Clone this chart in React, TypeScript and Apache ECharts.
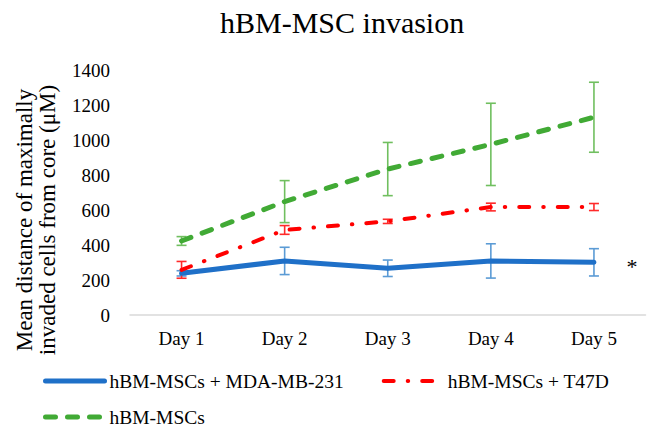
import React, { useEffect, useRef } from "react";
import * as echarts from "echarts";

const categories = ["Day 1", "Day 2", "Day 3", "Day 4", "Day 5"];
const seriesNames = ["hBM-MSCs + MDA-MB-231", "hBM-MSCs + T47D", "hBM-MSCs"];
const mdaMean = [238, 309, 267, 309, 301];
const mdaErr = [15, 78, 47, 98, 78];
const t47dMean = [258, 486, 535, 617, 617];
const t47dErr = [48, 25, 12, 22, 20];
const mscMean = [423, 648, 834, 975, 1130];
const mscErr = [25, 120, 152, 235, 200];
const yTicks = { min: 0, max: 1400, interval: 200 };

const FONT = "'Liberation Serif', serif";

function errorData(mean: number[], err: number[]) {
  return mean.map((m, i) => [i, m - err[i], m + err[i]]);
}

function errorSeries(mean: number[], err: number[], color: string) {
  return {
    type: "custom",
    silent: true,
    z: 1,
    renderItem: (params: any, api: any) => {
      const x = api.value(0);
      const lo = api.coord([x, api.value(1)]);
      const hi = api.coord([x, api.value(2)]);
      const cx = lo[0];
      const half = 5;
      const style = { stroke: color, lineWidth: 1.6 };
      return {
        type: "group",
        children: [
          { type: "line", shape: { x1: cx, y1: hi[1], x2: cx, y2: lo[1] }, style },
          { type: "line", shape: { x1: cx - half, y1: hi[1], x2: cx + half, y2: hi[1] }, style },
          { type: "line", shape: { x1: cx - half, y1: lo[1], x2: cx + half, y2: lo[1] }, style },
        ],
      };
    },
    encode: { x: 0, y: [1, 2] },
    data: errorData(mean, err),
  };
}

export default function App() {
  const ref = useRef<HTMLDivElement>(null);
  useEffect(() => {
    if (!ref.current) return;
    const chart = echarts.init(ref.current, null, { renderer: "svg" });
    const blue = "#1f70c8";
    const red = "#ff0000";
    const green = "#41aa35";
    const blueStyle = { color: blue, width: 5, cap: "round" };
    const redStyle = { color: red, width: 4, type: [10, 14, 0.5, 14], cap: "round" };
    const greenStyle = { color: green, width: 5, type: [10, 12], cap: "round" };
    const legendCommon = {
      left: 38,
      itemWidth: 59,
      itemHeight: 10,
      itemStyle: { color: "transparent", borderWidth: 0, opacity: 0 },
      textStyle: { fontFamily: FONT, fontSize: 19.5, color: "#000" },
    };
    chart.setOption({
      animation: false,
      backgroundColor: "#ffffff",
      textStyle: { fontFamily: FONT, color: "#000" },
      title: {
        text: "hBM-MSC invasion",
        left: 215,
        top: 2,
        textStyle: { fontFamily: FONT, fontSize: 30, fontWeight: "normal", color: "#000" },
      },
      grid: { left: 130, right: 5.5, top: 70, bottom: 113, containLabel: false },
      xAxis: {
        type: "category",
        data: categories,
        axisLine: { lineStyle: { color: "#d9d9d9", width: 1.5 } },
        axisTick: { show: false },
        axisLabel: { fontFamily: FONT, fontSize: 19, color: "#000", margin: 14 },
      },
      yAxis: {
        type: "value",
        min: yTicks.min,
        max: yTicks.max,
        interval: yTicks.interval,
        axisLine: { show: false },
        axisTick: { show: false },
        splitLine: { show: false },
        axisLabel: {
          fontFamily: FONT,
          fontSize: 19,
          color: "#000",
          margin: 20,
          formatter: (v: number) => String(v),
        },
      },
      legend: [
        {
          ...legendCommon,
          top: 366,
          itemGap: 38,
          data: [
            { name: seriesNames[0], lineStyle: blueStyle },
            { name: seriesNames[1], lineStyle: redStyle },
          ],
        },
        {
          ...legendCommon,
          top: 402,
          data: [{ name: seriesNames[2], lineStyle: greenStyle }],
        },
      ],
      graphic: [
        {
          type: "text",
          x: 24,
          y: 220,
          rotation: Math.PI / 2,
          style: {
            text: "Mean distance of maximally",
            fontFamily: FONT,
            fontSize: 23,
            fill: "#000",
            align: "center",
            verticalAlign: "middle",
          },
        },
        {
          type: "text",
          x: 47,
          y: 220,
          rotation: Math.PI / 2,
          style: {
            text: "invaded cells from core (μM)",
            fontFamily: FONT,
            fontSize: 23,
            fill: "#000",
            align: "center",
            verticalAlign: "middle",
          },
        },
        {
          type: "text",
          x: 632,
          y: 266,
          style: {
            text: "*",
            fontFamily: FONT,
            fontSize: 22,
            fill: "#000",
            align: "center",
            verticalAlign: "middle",
          },
        },
      ],
      series: [
        errorSeries(mdaMean, mdaErr, "#5b9bd5"),
        errorSeries(t47dMean, t47dErr, "#ff2a2a"),
        errorSeries(mscMean, mscErr, "#70bf5f"),
        {
          name: seriesNames[0],
          type: "line",
          data: mdaMean,
          symbol: "none",
          z: 3,
          color: blue,
          lineStyle: blueStyle,
        },
        {
          name: seriesNames[1],
          type: "line",
          data: t47dMean,
          symbol: "none",
          z: 3,
          color: red,
          lineStyle: redStyle,
        },
        {
          name: seriesNames[2],
          type: "line",
          data: mscMean,
          symbol: "none",
          z: 3,
          color: green,
          lineStyle: greenStyle,
        },
      ],
    });
    return () => chart.dispose();
  }, []);
  return <div ref={ref} style={{ width: 651, height: 428, position: "absolute", left: 0, top: 0 }} />;
}
